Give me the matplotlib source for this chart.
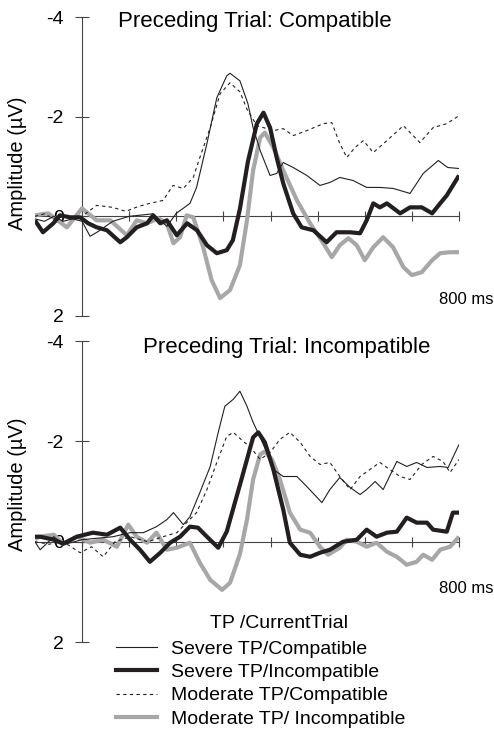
import matplotlib
matplotlib.use("Agg")
import matplotlib.pyplot as plt
from matplotlib.lines import Line2D

plt.rcParams['font.family'] = ['Liberation Sans', 'DejaVu Sans']
plt.rcParams['axes.unicode_minus'] = False

# kolejnosc legendy / serii
labels = ["Severe TP/Compatible", "Severe TP/Incompatible",
          "Moderate TP/Compatible", "Moderate TP/ Incompatible"]
titles = ["Preceding Trial: Compatible", "Preceding Trial: Incompatible"]
yticks = [-4, -2, 0, 2]
xticks = [0, 100, 200, 300, 400, 500, 600, 700, 800]

# gorny panel (poprzednia proba zgodna), czas w ms, amplituda w uV
top_sc_t = [-100, -80, -60, -40, -20, 0, 17, 35, 65, 100, 150, 180, 200, 229, 243, 265, 286,
            307, 314, 335, 352, 363, 378, 399, 413, 427, 448, 477, 505, 526, 547, 575, 604,
            632, 660, 696, 724, 756, 776, 800]
top_sc_v = [0.05, 0.1, 0.0, 0.1, 0.05, 0.1, 0.4, 0.3, 0.1, 0.0, -0.05, 0.2, -0.06, -0.26,
            -0.58, -1.46, -2.38, -2.82, -2.87, -2.72, -2.26, -1.78, -1.32, -0.82, -0.86,
            -1.08, -0.98, -0.82, -0.62, -0.68, -0.78, -0.72, -0.58, -0.58, -0.56, -0.46,
            -0.86, -1.12, -0.98, -0.96]

top_si_t = [-100, -83, -61, -47, -25, -4, 13, 31, 53, 81, 95, 116, 138, 151, 166, 180, 201,
            223, 244, 265, 286, 307, 320, 335, 352, 371, 385, 399, 413, 427, 448, 466, 491,
            519, 540, 569, 590, 604, 618, 632, 647, 675, 696, 721, 743, 760, 774, 800]
top_si_v = [0.08, 0.32, 0.14, -0.02, 0.02, 0.02, 0.14, 0.22, 0.28, 0.52, 0.42, 0.22, 0.14,
            -0.02, 0.14, 0.08, 0.38, 0.14, 0.28, 0.58, 0.74, 0.68, 0.48, -0.15, -1.1, -1.86,
            -2.08, -1.78, -1.18, -0.66, -0.06, 0.22, 0.28, 0.52, 0.32, 0.32, 0.34, 0.08,
            -0.26, -0.18, -0.26, -0.06, -0.18, -0.18, -0.06, -0.26, -0.42, -0.82]

top_mc_t = [-100, -80, -60, -40, -20, 0, 31, 65, 93, 120, 144, 172, 193, 215, 236, 250, 272,
            293, 314, 335, 350, 371, 406, 427, 448, 477, 512, 530, 547, 562, 579, 597, 618,
            647, 682, 717, 745, 774, 800]
top_mc_v = [0.0, -0.05, 0.05, 0.0, 0.05, 0.0, -0.22, -0.18, -0.1, -0.2, -0.26, -0.32, -0.62,
            -0.56, -0.78, -1.18, -1.78, -2.46, -2.68, -2.5, -2.15, -1.82, -1.72, -1.76, -1.62,
            -1.72, -1.86, -1.88, -1.46, -1.18, -1.38, -1.52, -1.28, -1.52, -1.82, -1.48,
            -1.78, -1.86, -2.02]

top_mi_t = [-100, -72, -32, 0, 31, 60, 95, 116, 138, 162, 180, 194, 208, 222, 236, 257, 275,
            293, 314, 335, 350, 363, 378, 388, 406, 427, 456, 484, 512, 530, 547, 565, 583,
            600, 618, 639, 660, 682, 700, 721, 743, 760, 781, 800]
top_mi_v = [-0.02, -0.06, 0.22, -0.16, 0.08, 0.08, 0.38, 0.08, 0.14, 0.04, 0.14, 0.54, 0.42,
            -0.02, 0.02, 0.62, 1.28, 1.64, 1.48, 0.98, 0.08, -0.92, -1.58, -1.68, -1.38,
            -0.92, -0.32, 0.14, 0.54, 0.82, 0.58, 0.44, 0.58, 0.88, 0.62, 0.42, 0.62, 1.02,
            1.18, 1.12, 0.88, 0.74, 0.72, 0.72]

# dolny panel (poprzednia proba niezgodna)
bot_sc_t = [-100, -89, -60, -40, 0, 66, 102, 130, 158, 180, 194, 215, 229, 250, 272, 289,
            303, 321, 335, 350, 363, 378, 392, 406, 427, 456, 477, 509, 526, 547, 569, 590,
            604, 622, 639, 668, 689, 710, 732, 760, 777, 800]
bot_sc_v = [0.0, 0.16, -0.1, 0.06, -0.04, -0.1, -0.18, -0.18, -0.3, -0.44, -0.58, -0.34,
            -0.5, -0.98, -1.5, -2.18, -2.7, -2.84, -3.0, -2.7, -2.38, -2.08, -1.78, -1.44,
            -1.3, -1.3, -1.1, -0.78, -1.04, -1.28, -1.08, -0.94, -1.04, -1.2, -1.04, -1.6,
            -1.5, -1.58, -1.48, -1.5, -1.48, -1.94]

bot_si_t = [-100, -89, -60, -40, -11, 23, 53, 81, 102, 123, 144, 166, 187, 208, 229, 246,
            265, 289, 307, 328, 340, 350, 363, 374, 388, 406, 427, 441, 463, 484, 505, 526,
            554, 583, 604, 625, 647, 668, 689, 710, 732, 745, 774, 787, 800]
bot_si_v = [-0.1, -0.1, -0.04, 0.04, -0.1, -0.18, -0.14, -0.28, -0.04, 0.16, 0.4, 0.22, 0.02,
            -0.1, -0.3, -0.28, -0.1, 0.12, -0.2, -0.9, -1.3, -1.64, -2.08, -2.18, -1.98,
            -1.44, -0.64, 0.02, 0.26, 0.3, 0.22, 0.16, 0.0, -0.04, -0.24, -0.1, -0.18, -0.2,
            -0.48, -0.38, -0.38, -0.24, -0.2, -0.58, -0.58]

bot_mc_t = [-100, -70, -40, -4, 20, 45, 70, 102, 140, 172, 201, 222, 243, 265, 286, 307, 321,
            342, 356, 378, 399, 420, 441, 463, 484, 505, 526, 547, 569, 590, 611, 632, 653,
            675, 696, 721, 745, 766, 781, 800]
bot_mc_v = [0.0, 0.05, 0.0, 0.22, 0.1, 0.3, 0.0, -0.1, 0.0, -0.1, -0.18, -0.38, -0.58, -1.04,
            -1.58, -2.1, -2.18, -2.0, -1.9, -1.64, -1.78, -2.04, -2.18, -1.98, -1.7, -1.54,
            -1.58, -1.3, -1.04, -1.3, -1.44, -1.58, -1.44, -1.3, -1.24, -1.54, -1.7, -1.6,
            -1.38, -1.64]

bot_mi_t = [-100, -89, -60, -40, -11, 17, 45, 74, 98, 116, 138, 158, 180, 201, 229, 250, 272,
            297, 314, 335, 350, 363, 378, 388, 403, 420, 441, 463, 484, 505, 522, 547, 562,
            583, 604, 625, 647, 668, 689, 710, 724, 743, 760, 781, 800]
bot_mi_v = [-0.05, -0.1, -0.14, 0.04, -0.1, 0.02, -0.04, 0.1, -0.34, -0.1, 0.02, -0.18, 0.16,
            0.12, 0.02, 0.42, 0.76, 0.96, 0.82, 0.25, -0.44, -1.24, -1.74, -1.8, -1.64, -1.24,
            -0.58, -0.24, -0.18, 0.1, 0.26, 0.12, -0.04, 0.0, 0.1, 0.02, 0.2, 0.3, 0.46, 0.4,
            0.26, 0.36, 0.16, 0.1, -0.1]

BLACK = '#231f20'
GRAY = '#a7a7a7'
AXC = '#444444'

styles = [
    dict(color=BLACK, lw=0.8, ls='-', zorder=5),
    dict(color=BLACK, lw=3.0, ls='-', zorder=4),
    dict(color=BLACK, lw=0.8, ls=(0, (3, 3)), zorder=4.5),
    dict(color=GRAY, lw=3.0, ls='-', zorder=3),
]


def rysuj_panel(ax, serie, ms_y):
    for (t, v), st in zip(serie, styles):
        ax.plot(t, v, color=st['color'], lw=st['lw'], ls=st['ls'], zorder=st['zorder'],
                solid_joinstyle='round', solid_capstyle='butt')
    ax.set_xlim(-100, 800)
    ax.set_ylim(2, -4)
    for s in ['top', 'right']:
        ax.spines[s].set_visible(False)
    ax.spines['left'].set_position(('data', 0))
    ax.spines['bottom'].set_position(('data', 0))
    for s in ['left', 'bottom']:
        ax.spines[s].set_color(AXC)
        ax.spines[s].set_linewidth(0.8)
        ax.spines[s].set_zorder(1)
    ax.set_yticks(yticks)
    ax.set_yticklabels([str(y) for y in yticks])
    ax.set_xticks(xticks)
    ax.set_xticklabels([])
    ax.tick_params(axis='y', direction='inout', length=10, width=0.8, color=AXC,
                   labelsize=14, pad=8)
    ax.tick_params(axis='x', direction='inout', length=7, width=0.8, color=AXC)
    ax.patch.set_visible(False)
    ax.text(757, ms_y, "800 ms", fontsize=12, ha='left', va='center', clip_on=False)


fig = plt.figure(figsize=(4.94, 7.33), dpi=100)
ax1 = fig.add_axes([0.0707, 0.5689, 0.8585, 0.4079])
ax2 = fig.add_axes([0.0707, 0.1241, 0.8585, 0.4106])

rysuj_panel(ax1, [(top_sc_t, top_sc_v), (top_si_t, top_si_v),
                  (top_mc_t, top_mc_v), (top_mi_t, top_mi_v)], 1.66)
rysuj_panel(ax2, [(bot_sc_t, bot_sc_v), (bot_si_t, bot_si_v),
                  (bot_mc_t, bot_mc_v), (bot_mi_t, bot_mi_v)], 0.94)

fig.text(255 / 494, 1 - 21 / 733, titles[0], fontsize=16, ha='center', va='center')
fig.text(287 / 494, 1 - 348 / 733, titles[1], fontsize=16, ha='center', va='center')

fig.text(18 / 494, 1 - 163 / 733, "Amplitude (\u00b5V)", fontsize=14.5, rotation=90,
         ha='center', va='center')
fig.text(18 / 494, 1 - 484 / 733, "Amplitude (\u00b5V)", fontsize=14.5, rotation=90,
         ha='center', va='center')

# legenda
uchwyty = [Line2D([], [], color=st['color'], lw=st['lw'], ls=st['ls']) for st in styles]
fig.text(279 / 494, 1 - 623 / 733, "TP /CurrentTrial", fontsize=14, ha='center', va='center')
fig.legend(uchwyty, labels, loc='upper left', bbox_to_anchor=(116 / 494, 1 - 640 / 733),
           frameon=False, fontsize=14, handlelength=2.1, handletextpad=0.72,
           labelspacing=0.3, borderpad=0, borderaxespad=0)

fig.savefig("out.png", dpi=100)
